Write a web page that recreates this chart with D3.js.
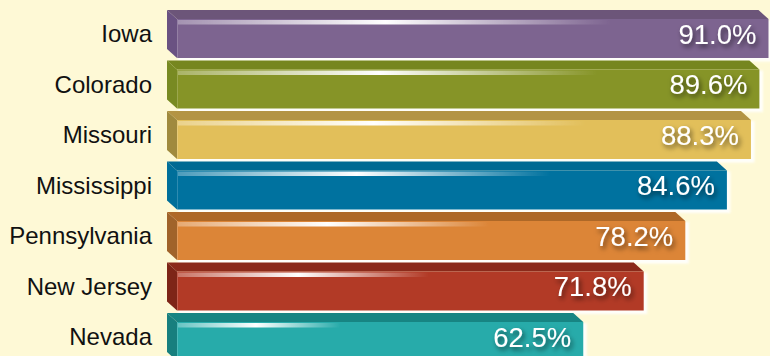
<!DOCTYPE html>
<html>
<head>
<meta charset="utf-8">
<script src="https://cdn.jsdelivr.net/npm/d3@7"></script>
<style>
  html, body { margin: 0; padding: 0; background: #FEF9D6; }
  svg { display: block; }
</style>
</head>
<body>
<script>
// Graduation rates by state
const states = ["Iowa", "Colorado", "Missouri", "Mississippi", "Pennsylvania", "New Jersey", "Nevada"];
const rates = [91.0, 89.6, 88.3, 84.6, 78.2, 71.8, 62.5];

// Face colours for each bar: front, top, left side
const frontColors = ["#7D6490", "#869427", "#E2BF5A", "#00729F", "#DC8537", "#B23A26", "#27ABAA"];
const topColors   = ["#6C5579", "#76861F", "#B39444", "#006A93", "#AE6827", "#8B2A1A", "#178583"];
const sideColors  = ["#6A5282", "#788A22", "#A08A3E", "#006F9A", "#A0632A", "#7D2517", "#177F7E"];

const W = 770, H = 356;
const depthX = 10, depthY = 9;   // oblique offset of the back face
const frontH = 39;

const svg = d3.select("body").append("svg")
  .attr("width", W).attr("height", H);

svg.append("rect").attr("width", W).attr("height", H).attr("fill", "#FEF9D6");

const x = d3.scaleLinear().domain([0, 100]).range([177, 827]);
const y = d3.scaleBand().domain(states).range([19, 19 + 50.5 * states.length]).padding(0);

const defs = svg.append("defs");

const shadow = defs.append("filter").attr("id", "txtShadow")
  .attr("x", "-20%").attr("y", "-30%").attr("width", "150%").attr("height", "170%");
shadow.append("feDropShadow")
  .attr("dx", 2).attr("dy", 3).attr("stdDeviation", 2.4)
  .attr("flood-color", "#000").attr("flood-opacity", 0.6);

const soft = defs.append("filter").attr("id", "soft")
  .attr("x", "-5%").attr("y", "-100%").attr("width", "110%").attr("height", "300%");
soft.append("feGaussianBlur").attr("stdDeviation", 0.6);

const glow = defs.append("filter").attr("id", "glow")
  .attr("x", "-5%").attr("y", "-20%").attr("width", "110%").attr("height", "140%");
glow.append("feGaussianBlur").attr("stdDeviation", 0.8);

const data = states.map((s, i) => ({
  state: s, value: rates[i],
  front: frontColors[i], top: topColors[i], side: sideColors[i], i
}));

// streak gradients
data.forEach(d => {
  const g = defs.append("linearGradient").attr("id", "streak" + d.i)
    .attr("x1", "0%").attr("x2", "100%").attr("y1", "0%").attr("y2", "0%");
  g.append("stop").attr("offset", "0%").attr("stop-color", "#fff").attr("stop-opacity", 0.3);
  g.append("stop").attr("offset", "48%").attr("stop-color", "#fff").attr("stop-opacity", 1);
  g.append("stop").attr("offset", "100%").attr("stop-color", "#fff").attr("stop-opacity", 0);
});

const bars = svg.selectAll("g.bar").data(data).join("g").attr("class", "bar");

bars.each(function(d) {
  const g = d3.select(this);
  const x0 = x(0), x1 = x(d.value), yF = y(d.state);
  const w = x1 - x0;

  // light rim behind the front face
  g.append("rect")
    .attr("x", x0 + 1).attr("y", yF + 1)
    .attr("width", w + 2.5).attr("height", frontH + 2.5)
    .attr("fill", "#ffffff").attr("opacity", 0.9)
    .attr("filter", "url(#glow)");

  // top face
  g.append("path")
    .attr("d", `M${x0 - depthX},${yF - depthY} L${x1 - depthX},${yF - depthY} L${x1},${yF} L${x0},${yF} Z`)
    .attr("fill", d.top);

  // left side face
  g.append("path")
    .attr("d", `M${x0 - depthX},${yF - depthY} L${x0},${yF} L${x0},${yF + frontH} L${x0 - depthX},${yF + frontH - depthY} Z`)
    .attr("fill", d.side);

  // front face
  g.append("rect")
    .attr("x", x0).attr("y", yF)
    .attr("width", w).attr("height", frontH)
    .attr("fill", d.front);

  // edge line between side and front
  g.append("line")
    .attr("x1", x0 + 0.5).attr("x2", x0 + 0.5)
    .attr("y1", yF).attr("y2", yF + frontH)
    .attr("stroke", "#ffffff").attr("stroke-opacity", 0.18);

  // glossy streak along the top of the front face
  const peak = Math.max(60, 0.695 * w - 205);
  const len = Math.min(w - 4, 2.1 * peak);
  g.append("rect")
    .attr("x", x0 + 1).attr("y", yF + 1)
    .attr("width", len).attr("height", 4.5)
    .attr("fill", `url(#streak${d.i})`)
    .attr("filter", "url(#soft)");
});

// category labels
svg.selectAll("text.cat").data(data).join("text")
  .attr("class", "cat")
  .attr("x", 152)
  .attr("y", d => y(d.state) + 23)
  .attr("text-anchor", "end")
  .attr("font-family", "'Liberation Sans', Arial, Helvetica, sans-serif")
  .attr("font-size", 24)
  .attr("fill", "#111")
  .text(d => d.state);

// value labels
const fmt = d3.format(".1f");
svg.selectAll("text.val").data(data).join("text")
  .attr("class", "val")
  .attr("x", d => x(d.value) - 12)
  .attr("y", d => y(d.state) + 24.5)
  .attr("text-anchor", "end")
  .attr("font-family", "'Liberation Sans', Arial, Helvetica, sans-serif")
  .attr("font-size", 27.5)
  .attr("fill", "#ffffff")
  .attr("filter", "url(#txtShadow)")
  .text(d => fmt(d.value) + "%");
</script>
</body>
</html>
